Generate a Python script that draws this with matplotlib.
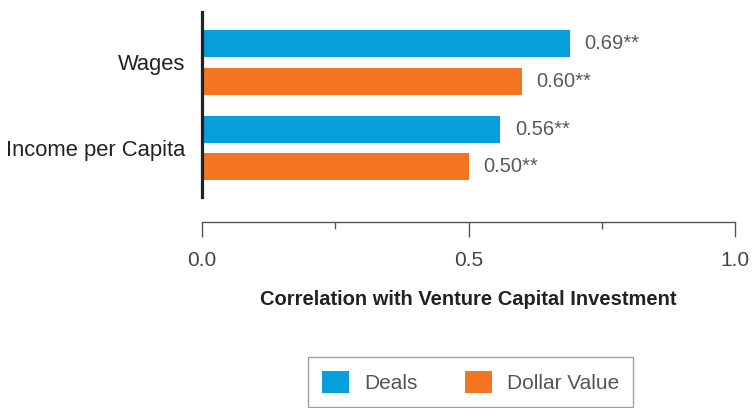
import matplotlib.pyplot as plt
from matplotlib.ticker import MultipleLocator
from matplotlib.patches import Patch

plt.rcParams['font.family'] = ['Liberation Sans', 'DejaVu Sans']

categories = ['Wages', 'Income per Capita']
deals = [0.69, 0.56]
dollar_value = [0.60, 0.50]
series_names = ['Deals', 'Dollar Value']
value_suffix = '**'

blue = '#069fdb'
orange = '#f37421'

W, H = 752, 408
fig = plt.figure(figsize=(W / 100, H / 100), dpi=100)
ax = fig.add_axes([202 / W, 1 - 197 / H, 533 / W, 185 / H])

ys = list(range(len(categories)))
bar_h = 0.316
off = 0.22
ax.barh([y - off for y in ys], deals, height=bar_h, color=blue)
ax.barh([y + off for y in ys], dollar_value, height=bar_h, color=orange)

for y, v in zip(ys, deals):
    ax.text(v + 0.028, y - off, f'{v:.2f}{value_suffix}', va='center', ha='left',
            fontsize=14.5, color='#595959')
for y, v in zip(ys, dollar_value):
    ax.text(v + 0.028, y + off, f'{v:.2f}{value_suffix}', va='center', ha='left',
            fontsize=14.5, color='#595959')

ax.set_xlim(0, 1.0)
ax.set_ylim(1.574, -0.59)
ax.set_yticks(ys)
ax.set_yticklabels(categories)
ax.tick_params(axis='y', length=0, pad=12, labelsize=15.8, labelcolor='#222222')

ax.xaxis.set_major_locator(MultipleLocator(0.5))
ax.xaxis.set_minor_locator(MultipleLocator(0.25))
ax.xaxis.set_major_formatter(lambda v, pos: f'{v:.1f}')
ax.tick_params(axis='x', which='major', length=11, width=1.0, color='#555555',
               pad=10, labelsize=15, labelcolor='#444444')
ax.tick_params(axis='x', which='minor', length=5, width=1.0, color='#555555')

for s in ['top', 'right']:
    ax.spines[s].set_visible(False)
ax.spines['left'].set_color('#222222')
ax.spines['left'].set_linewidth(2.3)
ax.spines['bottom'].set_position(('outward', 18))
ax.spines['bottom'].set_color('#555555')
ax.spines['bottom'].set_linewidth(1.0)

ax.set_xlabel('Correlation with Venture Capital Investment', fontsize=14.5,
              fontweight='bold', color='#222222', labelpad=14)

handles = [Patch(facecolor=blue), Patch(facecolor=orange)]
fig.legend(handles, series_names, loc='upper left',
           bbox_to_anchor=(308 / W, 1 - 357 / H), ncol=2, fontsize=15,
           frameon=True, fancybox=False, edgecolor='#888888',
           handlelength=1.3, handleheight=1.3, handletextpad=0.75,
           columnspacing=2.25, borderpad=0.65, borderaxespad=0,
           labelcolor='#555555')

fig.savefig('out.png', dpi=100)
